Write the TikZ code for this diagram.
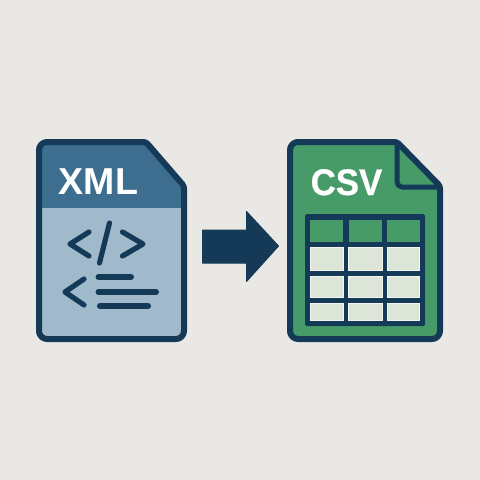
\documentclass[tikz,border=0pt]{standalone}
\usepackage{fontspec}
\setmainfont{Liberation Sans}
\newfontfamily\csvfont[FakeBold=0.6]{Liberation Sans}
\definecolor{bgc}{HTML}{E9E8E5}
\definecolor{ink}{HTML}{153A57}
\definecolor{xmlhead}{HTML}{3D6E8F}
\definecolor{xmlbody}{HTML}{A0BACB}
\definecolor{csvgreen}{HTML}{479B69}
\definecolor{cellc}{HTML}{DDE5D9}
\definecolor{celledge}{HTML}{F4F6F1}
\tikzset{
  docline/.style={draw=ink,line width=6pt,line join=round},
  glyph/.style={draw=ink,line width=5.2pt,line cap=round,line join=round},
  title/.style={inner sep=0pt,anchor=base,text=#1,font=\fontsize{37.5}{40}\selectfont\bfseries},
  cellhead/.style={fill=csvgreen},
  cellbody/.style={fill=cellc,draw=celledge,line width=0.8pt}
}
\def\xmlshape{[rounded corners=8pt] (39,220) -- (39,142) [rounded corners=2.5pt] -- (146,142) -- (184,186) [rounded corners=8pt] -- (184,339) -- (39,339) -- cycle}
\def\csvshape{[rounded corners=8pt] (290,220) -- (290,142) [rounded corners=2.5pt] -- (397,142) -- (440,186) [rounded corners=8pt] -- (440,339) -- (290,339) -- cycle}
\begin{document}
\begin{tikzpicture}[x=1pt,y=-1pt]
\useasboundingbox (0,0) rectangle (480,480);
\fill[bgc] (0,0) rectangle (480,480);
% XML file
\fill[xmlbody] \xmlshape;
\begin{scope}
\clip (30,130) rectangle (195,207);
\fill[xmlhead] \xmlshape;
\end{scope}
\draw[docline] \xmlshape;
\node[title=white] (xmllabel) at (98.5,194) {XML};
\draw[glyph] (89,232) -- (70,244) -- (89,256);
\draw[glyph] (109.5,223) -- (99.5,263);
\draw[glyph] (122.5,232) -- (143,244) -- (122.5,256);
\draw[glyph] (84,279) -- (65,292) -- (84,305);
\draw[glyph,line width=6pt] (98.5,277) -- (131,277);
\draw[glyph,line width=6pt] (98.5,292) -- (156,292);
\draw[glyph,line width=6pt] (100,306) -- (148,306);
% arrow
\fill[ink,draw=ink,line width=1pt,line join=round] (202.5,230) -- (246.5,230) -- (246.5,211.5) -- (278.5,246) -- (246.5,281.5) -- (246.5,263) -- (202.5,263) -- cycle;
% CSV file
\fill[csvgreen] \csvshape;
\draw[docline] \csvshape;
\draw[docline,line width=5pt,rounded corners=5pt] (397,143) -- (397,187) -- (440,187);
\node[title=white,font=\fontsize{37}{40}\selectfont\csvfont\bfseries,xscale=0.94] (csvlabel) at (346.5,195) {CSV};
% table
\fill[ink,rounded corners=1.5pt] (305,214) rectangle (425,326);
\foreach \xa/\xb in {310/343,348.5/382,387/419.5}{
  \fill[cellhead] (\xa,219.5) rectangle (\xb,242);
  \filldraw[cellbody] (\xa,247.5) rectangle (\xb,270.5);
  \filldraw[cellbody] (\xa,276) rectangle (\xb,297.5);
  \filldraw[cellbody] (\xa,303) rectangle (\xb,320.5);
}
\end{tikzpicture}
\end{document}
